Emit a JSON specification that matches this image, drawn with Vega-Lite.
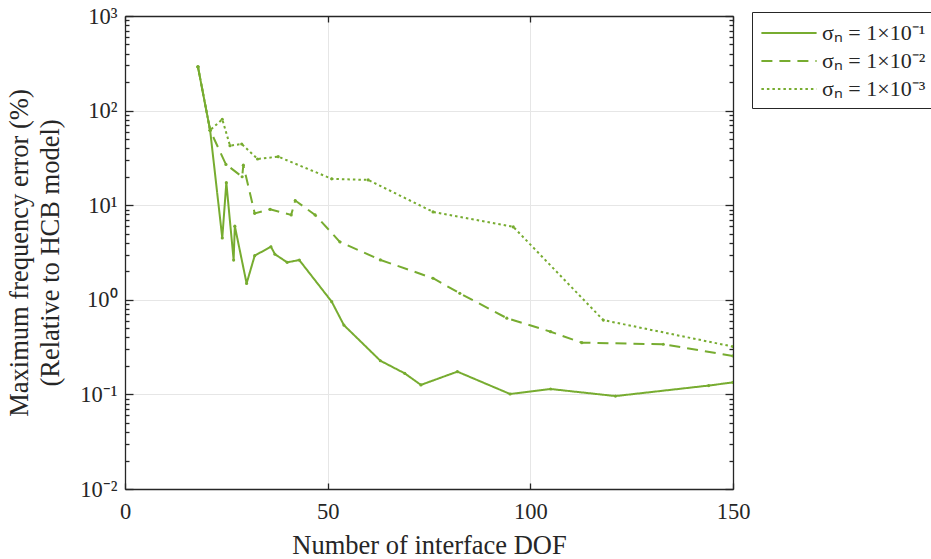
{
  "$schema": "https://vega.github.io/schema/vega-lite/v6.json",
  "autosize": "none",
  "padding": {"left": 125, "top": 16, "right": 198, "bottom": 70},
  "width": 608,
  "height": 473,
  "background": "white",
  "config": {
    "font": "Liberation Serif",
    "view": {"stroke": null},
    "axis": {"labelFont": "Liberation Serif", "titleFont": "Liberation Serif", "labelColor": "#262626", "titleColor": "#262626", "titleFontWeight": "normal", "domainColor": "#262626", "tickColor": "#262626", "gridColor": "#e6e6e6", "gridWidth": 1, "domainWidth": 1.3, "tickWidth": 1.3},
    "legend": {"labelFont": "Liberation Serif"}
  },
  "datasets": {
    "series": [
      {"s": "σₙ = 1×10⁻¹", "x": 18, "y": 290},
      {"s": "σₙ = 1×10⁻¹", "x": 21, "y": 62},
      {"s": "σₙ = 1×10⁻¹", "x": 24, "y": 4.5},
      {"s": "σₙ = 1×10⁻¹", "x": 25, "y": 17.3},
      {"s": "σₙ = 1×10⁻¹", "x": 26.8, "y": 2.63},
      {"s": "σₙ = 1×10⁻¹", "x": 27.1, "y": 6.0},
      {"s": "σₙ = 1×10⁻¹", "x": 30, "y": 1.49},
      {"s": "σₙ = 1×10⁻¹", "x": 32, "y": 2.93},
      {"s": "σₙ = 1×10⁻¹", "x": 36, "y": 3.64},
      {"s": "σₙ = 1×10⁻¹", "x": 37, "y": 3.03},
      {"s": "σₙ = 1×10⁻¹", "x": 40, "y": 2.49},
      {"s": "σₙ = 1×10⁻¹", "x": 43, "y": 2.63},
      {"s": "σₙ = 1×10⁻¹", "x": 51, "y": 0.955},
      {"s": "σₙ = 1×10⁻¹", "x": 54, "y": 0.54},
      {"s": "σₙ = 1×10⁻¹", "x": 63, "y": 0.227},
      {"s": "σₙ = 1×10⁻¹", "x": 69, "y": 0.167},
      {"s": "σₙ = 1×10⁻¹", "x": 73, "y": 0.126},
      {"s": "σₙ = 1×10⁻¹", "x": 82, "y": 0.174},
      {"s": "σₙ = 1×10⁻¹", "x": 95, "y": 0.101},
      {"s": "σₙ = 1×10⁻¹", "x": 105, "y": 0.114},
      {"s": "σₙ = 1×10⁻¹", "x": 121, "y": 0.096},
      {"s": "σₙ = 1×10⁻¹", "x": 144, "y": 0.124},
      {"s": "σₙ = 1×10⁻¹", "x": 150, "y": 0.134},
      {"s": "σₙ = 1×10⁻²", "x": 18, "y": 290},
      {"s": "σₙ = 1×10⁻²", "x": 21, "y": 62},
      {"s": "σₙ = 1×10⁻²", "x": 24.9, "y": 27},
      {"s": "σₙ = 1×10⁻²", "x": 28.9, "y": 20},
      {"s": "σₙ = 1×10⁻²", "x": 29.2, "y": 26.5},
      {"s": "σₙ = 1×10⁻²", "x": 32, "y": 8.2},
      {"s": "σₙ = 1×10⁻²", "x": 35.8, "y": 9.05},
      {"s": "σₙ = 1×10⁻²", "x": 41, "y": 7.9},
      {"s": "σₙ = 1×10⁻²", "x": 42, "y": 11.2},
      {"s": "σₙ = 1×10⁻²", "x": 46.9, "y": 7.9},
      {"s": "σₙ = 1×10⁻²", "x": 53, "y": 4.1},
      {"s": "σₙ = 1×10⁻²", "x": 63, "y": 2.64},
      {"s": "σₙ = 1×10⁻²", "x": 76, "y": 1.69},
      {"s": "σₙ = 1×10⁻²", "x": 82.6, "y": 1.17},
      {"s": "σₙ = 1×10⁻²", "x": 94.2, "y": 0.64},
      {"s": "σₙ = 1×10⁻²", "x": 105, "y": 0.46},
      {"s": "σₙ = 1×10⁻²", "x": 112.7, "y": 0.352},
      {"s": "σₙ = 1×10⁻²", "x": 132.8, "y": 0.339},
      {"s": "σₙ = 1×10⁻²", "x": 150, "y": 0.255},
      {"s": "σₙ = 1×10⁻³", "x": 18, "y": 290},
      {"s": "σₙ = 1×10⁻³", "x": 21, "y": 62},
      {"s": "σₙ = 1×10⁻³", "x": 24, "y": 81},
      {"s": "σₙ = 1×10⁻³", "x": 25.9, "y": 42.6},
      {"s": "σₙ = 1×10⁻³", "x": 28.8, "y": 44.4},
      {"s": "σₙ = 1×10⁻³", "x": 32.7, "y": 30.8},
      {"s": "σₙ = 1×10⁻³", "x": 37.8, "y": 32.6},
      {"s": "σₙ = 1×10⁻³", "x": 51, "y": 19.0},
      {"s": "σₙ = 1×10⁻³", "x": 60, "y": 18.5},
      {"s": "σₙ = 1×10⁻³", "x": 76, "y": 8.5},
      {"s": "σₙ = 1×10⁻³", "x": 95.8, "y": 5.9},
      {"s": "σₙ = 1×10⁻³", "x": 118, "y": 0.61},
      {"s": "σₙ = 1×10⁻³", "x": 150, "y": 0.32}
    ]
  },
  "data": {"name": "series"},
  "layer": [
    {
      "mark": {"type": "line", "strokeWidth": 2, "clip": true},
      "encoding": {
        "x": {"field": "x", "type": "quantitative",
          "scale": {"domain": [0, 150], "nice": false, "zero": false},
          "axis": {"orient": "bottom", "values": [0, 50, 100, 150], "title": "Number of interface DOF", "titleFontSize": 26.5, "labelFontSize": 22.5, "tickSize": -6, "labelPadding": 17, "titlePadding": 10, "grid": true, "labelFlush": false}},
        "y": {"field": "y", "type": "quantitative",
          "scale": {"type": "log", "domain": [0.01, 1000], "nice": false},
          "axis": {"orient": "left",
            "values": [0.01,0.02,0.03,0.04,0.05,0.06,0.07,0.08,0.09,0.1,0.2,0.3,0.4,0.5,0.6,0.7,0.8,0.9,1,2,3,4,5,6,7,8,9,10,20,30,40,50,60,70,80,90,100,200,300,400,500,600,700,800,900,1000],
            "labelExpr": "datum.value==1000?'10³':datum.value==100?'10²':datum.value==10?'10¹':datum.value==1?'10⁰':datum.value==0.1?'10⁻¹':datum.value==0.01?'10⁻²':''",
            "labelOverlap": false, "labelFontSize": 22.5, "labelPadding": 16, "labelFlush": false,
            "tickSize": {"condition": {"test": "abs(log(datum.value)/LN10 - round(log(datum.value)/LN10)) < 0.001", "value": -8}, "value": -4},
            "gridOpacity": {"condition": {"test": "abs(log(datum.value)/LN10 - round(log(datum.value)/LN10)) < 0.001", "value": 1}, "value": 0},
            "title": ["Maximum frequency error (%)", "(Relative to HCB model)"], "titleFontSize": 26.5, "titleLineHeight": 31, "titlePadding": 15}},
        "color": {"field": "s", "type": "nominal",
          "scale": {"domain": ["σₙ = 1×10⁻¹", "σₙ = 1×10⁻²", "σₙ = 1×10⁻³"], "range": ["#77AC30", "#77AC30", "#77AC30"]},
          "legend": {"title": null, "orient": "none", "legendX": 627, "legendY": -4, "strokeColor": "#262626", "fillColor": "white", "padding": 8, "labelFontSize": 22, "labelColor": "#262626", "symbolType": "M-2.3,0H2.3", "symbolSize": 576, "symbolOffset": 16, "symbolStrokeWidth": 2, "labelOffset": 20, "rowPadding": 4}},
        "strokeDash": {"field": "s", "type": "nominal",
          "scale": {"domain": ["σₙ = 1×10⁻¹", "σₙ = 1×10⁻²", "σₙ = 1×10⁻³"], "range": [[1, 0], [11, 7], [2.5, 3]]},
          "legend": {"title": null, "orient": "none", "legendX": 627, "legendY": -4, "strokeColor": "#262626", "fillColor": "white", "padding": 8, "labelFontSize": 22, "labelColor": "#262626", "symbolType": "M-2.3,0H2.3", "symbolSize": 576, "symbolOffset": 16, "symbolStrokeWidth": 2, "labelOffset": 20, "rowPadding": 4}}
      }
    },
    {
      "mark": {"type": "point", "filled": true, "size": 10, "color": "#77AC30", "opacity": 1, "clip": true},
      "encoding": {
        "x": {"field": "x", "type": "quantitative",
          "axis": {"orient": "top", "values": [0, 50, 100, 150], "labels": false, "title": null, "tickSize": -6, "grid": false}},
        "y": {"field": "y", "type": "quantitative",
          "axis": {"orient": "right",
            "values": [0.01,0.02,0.03,0.04,0.05,0.06,0.07,0.08,0.09,0.1,0.2,0.3,0.4,0.5,0.6,0.7,0.8,0.9,1,2,3,4,5,6,7,8,9,10,20,30,40,50,60,70,80,90,100,200,300,400,500,600,700,800,900,1000],
            "labels": false, "title": null, "grid": false,
            "tickSize": {"condition": {"test": "abs(log(datum.value)/LN10 - round(log(datum.value)/LN10)) < 0.001", "value": -8}, "value": -4}}}
      }
    }
  ],
  "resolve": {"axis": {"x": "independent", "y": "independent"}}
}
